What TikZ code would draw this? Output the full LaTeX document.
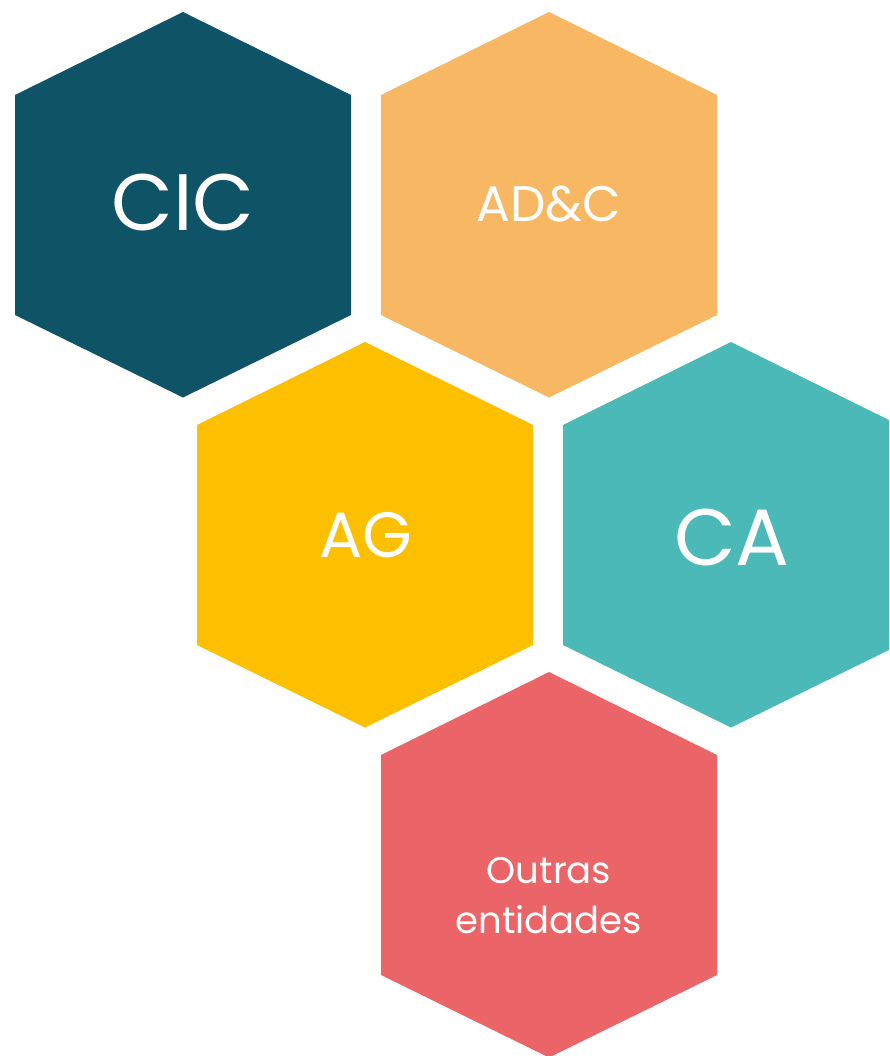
\documentclass[tikz,border=0pt]{standalone}
\usepackage{fontspec}
\setmainfont{Poppins}
\usepackage{tikz}
\usepackage{xcolor}
\definecolor{cicblue}{RGB}{14,83,102}
\definecolor{adcorange}{RGB}{248,183,98}
\definecolor{agyellow}{RGB}{253,192,0}
\definecolor{cateal}{RGB}{74,185,184}
\definecolor{outrasred}{RGB}{235,101,104}

\begin{document}
\begin{tikzpicture}[x=1pt, y=-1pt,
    hexlabel/.style={text=white, align=center, inner sep=0pt}]
    \useasboundingbox (0,0) rectangle (889,1056);
    \clip (0,0) rectangle (889,1056);
    \fill[cicblue] (183,12) --++ (168,83) --++ (0,220) --++ (-168,82.5) --++ (-168,-82.5) --++ (0,-220) -- cycle;
    \fill[adcorange] (549,12) --++ (168,83) --++ (0,220) --++ (-168,82.5) --++ (-168,-82.5) --++ (0,-220) -- cycle;
    \fill[agyellow] (365,342) --++ (168,83) --++ (0,220) --++ (-168,82.5) --++ (-168,-82.5) --++ (0,-220) -- cycle;
    \fill[cateal] (731,342) --++ (168,83) --++ (0,220) --++ (-168,82.5) --++ (-168,-82.5) --++ (0,-220) -- cycle;
    \fill[outrasred] (549,672) --++ (168,83) --++ (0,220) --++ (-168,82.5) --++ (-168,-82.5) --++ (0,-220) -- cycle;
    \node[hexlabel, font=\fontsize{80}{96}\selectfont] (cic) at (183,203) {CIC};
    \node[hexlabel, font=\fontsize{50}{60}\selectfont] (adc) at (549,204) {AD\&C};
    \node[hexlabel, font=\fontsize{64}{77}\selectfont] (ag) at (366,535) {AG};
    \node[hexlabel, font=\fontsize{80}{96}\selectfont] (ca) at (732,537) {CA};
    \node[hexlabel, font=\fontsize{37}{50}\selectfont] (outras) at (549,896) {Outras\\entidades};
\end{tikzpicture}
\end{document}
